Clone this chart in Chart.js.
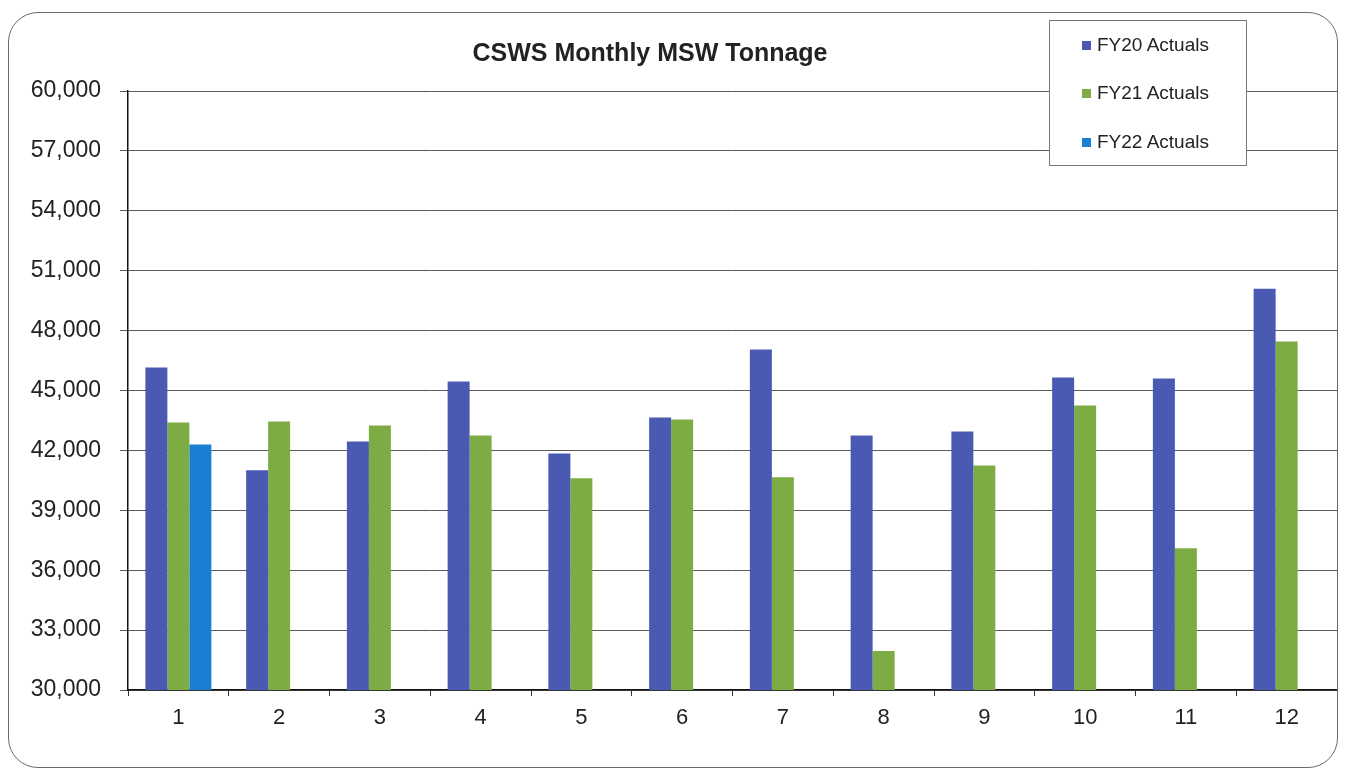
<!DOCTYPE html>
<html>
<head>
<meta charset="utf-8">
<script src="https://cdn.jsdelivr.net/npm/chart.js@4"></script>
<style>
  html, body { margin: 0; padding: 0; background: #fff; }
  #wrap { position: relative; width: 1345px; height: 778px; overflow: hidden; }
  #frame {
    position: absolute; left: 8px; top: 12px; width: 1330px; height: 756px;
    border: 1.5px solid #6a6a6a; border-radius: 30px; box-sizing: border-box;
  }
  #chartTitle {
    position: absolute; left: 0; width: 1300px; top: 38px; text-align: center;
    font: bold 25px "Liberation Sans", Arial, sans-serif; color: #222;
  }
  #legendBox {
    position: absolute; left: 1049px; top: 20px; width: 198px; height: 146px;
    border: 1px solid #777; background: #fff; box-sizing: border-box;
  }
  .leg-item {
    position: absolute; left: 32px; height: 22px; line-height: 22px;
    font: 19px "Liberation Sans", Arial, sans-serif; color: #222; white-space: nowrap;
  }
  .leg-item span.sw {
    display: inline-block; width: 9px; height: 9px; margin-right: 6px; vertical-align: 1px;
  }
</style>
</head>
<body>
<div id="wrap">
  <canvas id="mswChart" width="1345" height="778"></canvas>
  <div id="frame"></div>
  <div id="chartTitle"></div>
  <div id="legendBox"></div>
</div>
<script>
const chartTitle = "CSWS Monthly MSW Tonnage";

const months = ["1", "2", "3", "4", "5", "6", "7", "8", "9", "10", "11", "12"];

const seriesNames = ["FY20 Actuals", "FY21 Actuals", "FY22 Actuals"];

const fy20 = [46150, 41000, 42450, 45450, 41850, 43650, 47050, 42750, 42950, 45650, 45600, 50100];
const fy21 = [43400, 43450, 43250, 42750, 40600, 43550, 40650, 31950, 41250, 44250, 37100, 47450];
const fy22 = [42300, null, null, null, null, null, null, null, null, null, null, null];

const yMin = 30000;
const yMax = 60000;
const yStep = 3000;

const seriesColors = ["#4a5ab2", "#7eac44", "#1a7fd3"];

document.getElementById("chartTitle").textContent = chartTitle;

// right-hand border of the plot area
const plotBorder = {
    id: "plotBorder",
    afterDraw(chart) {
        const a = chart.chartArea;
        const c = chart.ctx;
        c.save();
        c.strokeStyle = "#8a8a8a";
        c.lineWidth = 1;
        c.beginPath();
        c.moveTo(a.right + 0.5, a.top);
        c.lineTo(a.right + 0.5, a.bottom);
        c.stroke();
        c.restore();
    }
};

const ctx = document.getElementById("mswChart");

const chart = new Chart(ctx, {
    type: "bar",
    data: {
        labels: months,
        datasets: [fy20, fy21, fy22].map((vals, i) => ({
            label: seriesNames[i],
            data: vals,
            backgroundColor: seriesColors[i],
            borderWidth: 0,
            barPercentage: 1,
            categoryPercentage: 0.655
        }))
    },
    options: {
        responsive: false,
        animation: false,
        layout: {
            padding: { left: 0, right: 8, top: 91, bottom: 0 }
        },
        plugins: {
            legend: { display: false },
            title: { display: false },
            tooltip: { enabled: false }
        },
        scales: {
            x: {
                grid: {
                    offset: true,
                    drawOnChartArea: false,
                    drawTicks: true,
                    tickLength: 6,
                    color: "#333"
                },
                border: { color: "#111", width: 1.5 },
                ticks: {
                    color: "#222",
                    padding: 9,
                    font: { family: "'Liberation Sans', Arial, sans-serif", size: 22 }
                },
                afterFit(axis) { axis.height = 88; }
            },
            y: {
                min: yMin,
                max: yMax,
                grid: {
                    color: "#5a5a5a",
                    lineWidth: 1,
                    tickLength: 8
                },
                border: { color: "#111", width: 1.5 },
                ticks: {
                    stepSize: yStep,
                    color: "#222",
                    padding: 19,
                    font: { family: "'Liberation Sans', Arial, sans-serif", size: 23 },
                    callback: v => v.toLocaleString("en-US")
                },
                afterFit(axis) { axis.width = 128; }
            }
        }
    },
    plugins: [plotBorder]
});

// legend box built from the datasets
const legendBox = document.getElementById("legendBox");
const rowTops = [13, 61, 110];
chart.data.datasets.forEach((ds, i) => {
    const item = document.createElement("div");
    item.className = "leg-item";
    item.style.top = rowTops[i] + "px";
    const sw = document.createElement("span");
    sw.className = "sw";
    sw.style.background = ds.backgroundColor;
    item.appendChild(sw);
    item.appendChild(document.createTextNode(ds.label));
    legendBox.appendChild(item);
});
</script>
</body>
</html>
